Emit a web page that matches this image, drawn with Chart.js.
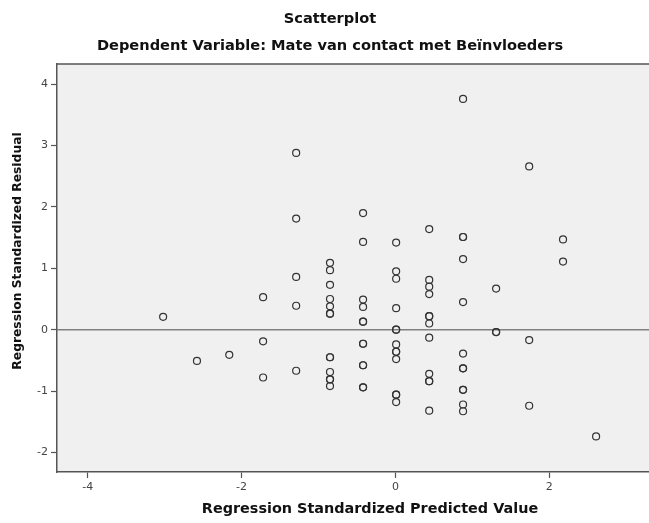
<!DOCTYPE html>
<html>
<head>
<meta charset="utf-8">
<script src="https://cdn.jsdelivr.net/npm/chart.js@4"></script>
<style>
  html, body { margin: 0; padding: 0; background: #fff; overflow: hidden; }
  #wrap { width: 690px; height: 523px; position: relative; }
</style>
</head>
<body>
<div id="wrap"><canvas id="myChart"></canvas></div>
<script>
// Regression Standardized Predicted Value (x) en Residual (y), gelezen uit de plot
const predicted = [
    -3.02,
    -2.58,
    -2.16,
    -1.72, -1.72, -1.72,
    -1.29, -1.29, -1.29, -1.29, -1.29,
    -0.85, -0.85, -0.85, -0.85, -0.85, -0.85, -0.85, -0.85, -0.85, -0.85, -0.85, -0.85, -0.85,
    -0.42, -0.42, -0.42, -0.42, -0.42, -0.42, -0.42, -0.42, -0.42, -0.42, -0.42, -0.42,
    0.01, 0.01, 0.01, 0.01, 0.01, 0.01, 0.01, 0.01, 0.01, 0.01, 0.01, 0.01, 0.01,
    0.44, 0.44, 0.44, 0.44, 0.44, 0.44, 0.44, 0.44, 0.44, 0.44, 0.44, 0.44,
    0.88, 0.88, 0.88, 0.88, 0.88, 0.88, 0.88, 0.88, 0.88, 0.88, 0.88, 0.88,
    1.31, 1.31, 1.31,
    1.74, 1.74, 1.74,
    2.18, 2.18,
    2.61
];
const residual = [
    0.21,
    -0.51,
    -0.41,
    0.53, -0.19, -0.78,
    2.88, 1.81, 0.86, 0.39, -0.67,
    1.09, 0.97, 0.73, 0.50, 0.38, 0.26, 0.26, -0.45, -0.45, -0.69, -0.81, -0.81, -0.92,
    1.90, 1.43, 0.49, 0.37, 0.13, 0.13, -0.23, -0.23, -0.58, -0.58, -0.94, -0.94,
    1.42, 0.95, 0.83, 0.35, 0.00, 0.00, -0.24, -0.36, -0.36, -0.48, -1.06, -1.06, -1.18,
    1.64, 0.81, 0.70, 0.58, 0.22, 0.22, 0.10, -0.13, -0.72, -0.84, -0.84, -1.32,
    3.76, 1.51, 1.51, 1.15, 0.45, -0.39, -0.63, -0.63, -0.98, -0.98, -1.22, -1.33,
    0.67, -0.04, -0.04,
    2.66, -0.17, -1.24,
    1.47, 1.11,
    -1.74
];
const xTicks = [-4, -2, 0, 2];
const yTicks = [-2, -1, 0, 1, 2, 3, 4];
const chartTitle = 'Scatterplot';
const chartSubtitle = 'Dependent Variable: Mate van contact met Beïnvloeders';
const xTitle = 'Regression Standardized Predicted Value';
const yTitle = 'Regression Standardized Residual';

const FONT = '"DejaVu Sans", "Lucida Grande", sans-serif';

const points = predicted.map((x, i) => ({ x: x, y: residual[i] }));

// achtergrond van het plotvlak, bovenrand, titels en y-as titel
const framePlugin = {
    id: 'frame',
    beforeDraw(chart) {
        const a = chart.chartArea;
        const ctx = chart.ctx;
        ctx.save();
        ctx.fillStyle = '#f0f0f0';
        ctx.fillRect(a.left, a.top, a.right - a.left, a.bottom - a.top);
        ctx.restore();
    },
    afterDraw(chart) {
        const a = chart.chartArea;
        const ctx = chart.ctx;
        ctx.save();
        ctx.strokeStyle = '#555';
        ctx.lineWidth = 1.5;
        ctx.beginPath();
        ctx.moveTo(a.left, a.top);
        ctx.lineTo(a.right, a.top);
        ctx.stroke();

        ctx.fillStyle = '#111';
        ctx.textAlign = 'center';
        ctx.textBaseline = 'middle';
        ctx.font = 'bold 14.6px ' + FONT;
        ctx.fillText(chartTitle, 330, 19);
        ctx.fillText(chartSubtitle, 330, 46);

        // y-as titel staat in het origineel iets boven het midden
        ctx.translate(18, 251);
        ctx.rotate(-Math.PI / 2);
        ctx.font = 'bold 12.3px ' + FONT;
        ctx.fillText(yTitle, 0, 0);
        ctx.restore();
    }
};

const ctx = document.getElementById('myChart').getContext('2d');
const myChart = new Chart(ctx, {
    type: 'scatter',
    data: {
        datasets: [{
            data: points,
            pointStyle: 'circle',
            pointRadius: 3.5,
            pointBorderWidth: 1.2,
            borderColor: '#333',
            backgroundColor: 'rgba(0,0,0,0)',
            order: 1
        }, {
            type: 'line',
            data: [{ x: -5, y: 0 }, { x: 5, y: 0 }],
            borderColor: '#808080',
            borderWidth: 1.5,
            pointRadius: 0,
            order: 2
        }]
    },
    options: {
        responsive: true,
        maintainAspectRatio: false,
        animation: false,
        events: [],
        layout: { padding: { top: 64, right: 7, left: 0, bottom: 0 } },
        plugins: {
            legend: { display: false },
            tooltip: { enabled: false }
        },
        scales: {
            x: {
                type: 'linear',
                min: -4.40,
                max: 3.74,
                afterBuildTicks(scale) { scale.ticks = xTicks.map(v => ({ value: v })); },
                afterFit(scale) { scale.height = 51; },
                border: { color: '#555', width: 1.5 },
                grid: { drawOnChartArea: false, tickLength: 6, tickColor: '#555', tickWidth: 1.2 },
                ticks: { color: '#444', padding: 3, font: { family: FONT, size: 11 } },
                title: {
                    display: true,
                    text: xTitle,
                    color: '#111',
                    padding: { top: 0, bottom: 5 },
                    font: { family: FONT, size: 14.4, weight: 'bold' }
                }
            },
            y: {
                type: 'linear',
                min: -2.32,
                max: 4.33,
                afterBuildTicks(scale) { scale.ticks = yTicks.map(v => ({ value: v })); },
                afterFit(scale) { scale.width = 57; },
                border: { color: '#555', width: 1.5 },
                grid: { drawOnChartArea: false, tickLength: 6, tickColor: '#555', tickWidth: 1.2 },
                ticks: { color: '#444', padding: 3, font: { family: FONT, size: 11 } },
                title: { display: false }
            }
        }
    },
    plugins: [framePlugin]
});
</script>
</body>
</html>
